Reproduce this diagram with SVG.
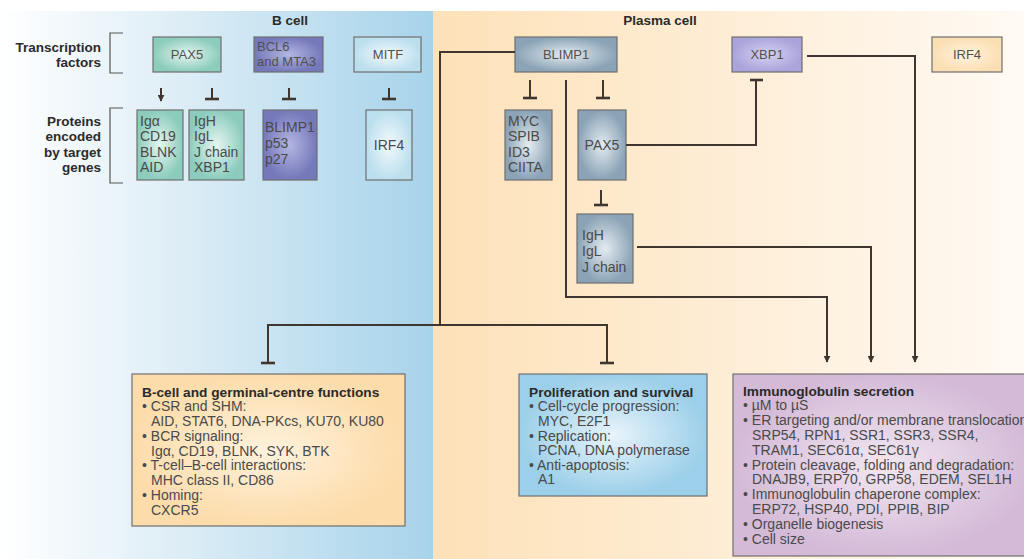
<svg xmlns="http://www.w3.org/2000/svg" width="1024" height="559" viewBox="0 0 1024 559">
<defs>
<linearGradient id="bgB" x1="0" y1="0" x2="1" y2="0">
<stop offset="0" stop-color="#ffffff"/>
<stop offset="0.35" stop-color="#e3f0f7"/>
<stop offset="1" stop-color="#a7d3ea"/>
</linearGradient>
<linearGradient id="bgP" x1="0" y1="0" x2="1" y2="0">
<stop offset="0" stop-color="#fde1b8"/>
<stop offset="0.6" stop-color="#fef0dc"/>
<stop offset="1" stop-color="#fffaf4"/>
</linearGradient>
<radialGradient id="gTeal"><stop offset="0" stop-color="#e6f5f0"/><stop offset="1" stop-color="#8bccbc"/></radialGradient>
<radialGradient id="gPurple"><stop offset="0" stop-color="#b4b6e2"/><stop offset="1" stop-color="#7578b9"/></radialGradient>
<radialGradient id="gLBlue"><stop offset="0" stop-color="#f2f9fc"/><stop offset="1" stop-color="#bcdfee"/></radialGradient>
<radialGradient id="gGray"><stop offset="0" stop-color="#e4ebf0"/><stop offset="1" stop-color="#8aa3b6"/></radialGradient>
<radialGradient id="gLav"><stop offset="0" stop-color="#d4d0f1"/><stop offset="1" stop-color="#aaa4da"/></radialGradient>
<radialGradient id="gIrf"><stop offset="0" stop-color="#fff2dc"/><stop offset="1" stop-color="#fbdfb4"/></radialGradient>
<radialGradient id="gOrange"><stop offset="0" stop-color="#fff2dc"/><stop offset="1" stop-color="#fcdcab"/></radialGradient>
<radialGradient id="gBlue"><stop offset="0" stop-color="#e8f4fa"/><stop offset="1" stop-color="#9ccfe9"/></radialGradient>
<radialGradient id="gPink"><stop offset="0" stop-color="#f1e7f1"/><stop offset="1" stop-color="#d4bad7"/></radialGradient>
<marker id="arr" viewBox="0 0 10 10" refX="9" refY="5" markerWidth="7" markerHeight="7" markerUnits="userSpaceOnUse" orient="auto">
<path d="M0,0 L10,5 L0,10 z" fill="#3f3630"/>
</marker>
<style>
.box{stroke:#6f6f6f;stroke-width:1.2}
.lbl{font-family:"Liberation Sans",Arial,sans-serif;font-size:13.5px;font-weight:bold;fill:#2b2b2b}
.t{font-family:"Liberation Sans",Arial,sans-serif;font-size:13px;fill:#505050}
.b{font-family:"Liberation Sans",Arial,sans-serif;font-size:14px;fill:#4a4a4a}
.bt{font-family:"Liberation Sans",Arial,sans-serif;font-size:13.7px;font-weight:bold;fill:#2a2a2a}
.ln{fill:none;stroke:#3f3630;stroke-width:2}
.bar{fill:none;stroke:#3f3630;stroke-width:2.6}
.br{fill:none;stroke:#555;stroke-width:1.2}
</style>
</defs>

<!-- panels -->
<rect x="0" y="0" width="1024" height="559" fill="#ffffff"/>
<rect x="0" y="11" width="433" height="548" fill="url(#bgB)"/>
<rect x="433" y="11" width="591" height="548" fill="url(#bgP)"/>
<text class="lbl" x="290" y="25" text-anchor="middle" font-size="14">B cell</text>
<text class="lbl" x="660" y="25" text-anchor="middle" font-size="14">Plasma cell</text>

<!-- side labels -->
<g id="label-tf">
<text class="lbl" x="101" y="52" text-anchor="end">Transcription</text>
<text class="lbl" x="101" y="67" text-anchor="end">factors</text>
<path class="br" d="M123,33 H110 V73 H123"/>
</g>
<g id="label-proteins">
<text class="lbl" x="101" y="126" text-anchor="end">Proteins</text>
<text class="lbl" x="101" y="141" text-anchor="end">encoded</text>
<text class="lbl" x="101" y="157" text-anchor="end">by target</text>
<text class="lbl" x="101" y="172" text-anchor="end">genes</text>
<path class="br" d="M123,108 H110 V183 H123"/>
</g>

<!-- B cell nodes -->
<g id="pax5-b"><rect class="box" x="153" y="37" width="68" height="35" fill="url(#gTeal)"/><text class="t" x="187" y="59" text-anchor="middle">PAX5</text></g>
<g id="bcl6"><rect class="box" x="254" y="37" width="69" height="35" fill="url(#gPurple)"/><text class="t" x="257" y="51" fill="#3e3e55">BCL6</text><text class="t" x="257" y="66" fill="#3e3e55">and MTA3</text></g>
<g id="mitf"><rect class="box" x="354" y="37" width="67" height="35" fill="url(#gLBlue)"/><text class="t" x="388" y="59" text-anchor="middle">MITF</text></g>
<g id="igA"><rect class="box" x="137" y="110" width="46" height="70" fill="url(#gTeal)"/>
<text class="b" x="140" y="126">Igα</text><text class="b" x="140" y="141">CD19</text><text class="b" x="140" y="157">BLNK</text><text class="b" x="140" y="172">AID</text></g>
<g id="igH-b"><rect class="box" x="189" y="110" width="55" height="70" fill="url(#gTeal)"/>
<text class="b" x="194" y="126">IgH</text><text class="b" x="194" y="141">IgL</text><text class="b" x="194" y="157">J chain</text><text class="b" x="194" y="172">XBP1</text></g>
<g id="blimp1-t"><rect class="box" x="263" y="110" width="54" height="70" fill="url(#gPurple)"/>
<text class="b" x="265" y="132" fill="#3e3e55">BLIMP1</text><text class="b" x="265" y="148" fill="#3e3e55">p53</text><text class="b" x="265" y="164" fill="#3e3e55">p27</text></g>
<g id="irf4-t"><rect class="box" x="366" y="110" width="46" height="70" fill="url(#gLBlue)"/><text class="b" x="389" y="150" text-anchor="middle">IRF4</text></g>

<!-- Plasma cell nodes -->
<g id="blimp1"><rect class="box" x="515" y="37" width="102" height="35" fill="url(#gGray)"/><text class="t" x="566" y="59" text-anchor="middle">BLIMP1</text></g>
<g id="xbp1"><rect class="box" x="732" y="37" width="70" height="35" fill="url(#gLav)"/><text class="t" x="767" y="59" text-anchor="middle">XBP1</text></g>
<g id="irf4"><rect class="box" x="932" y="37" width="70" height="35" fill="url(#gIrf)"/><text class="t" x="967" y="59" text-anchor="middle">IRF4</text></g>
<g id="myc"><rect class="box" x="505" y="110" width="47" height="70" fill="url(#gGray)"/>
<text class="b" x="508" y="126">MYC</text><text class="b" x="508" y="141">SPIB</text><text class="b" x="508" y="157">ID3</text><text class="b" x="508" y="172">CIITA</text></g>
<g id="pax5-p"><rect class="box" x="578" y="110" width="48" height="70" fill="url(#gGray)"/><text class="b" x="602" y="150" text-anchor="middle">PAX5</text></g>
<g id="igH-p"><rect class="box" x="577" y="214" width="56" height="69" fill="url(#gGray)"/>
<text class="b" x="582" y="240">IgH</text><text class="b" x="582" y="256">IgL</text><text class="b" x="582" y="272">J chain</text></g>

<!-- bottom boxes -->
<g id="bcell-functions"><rect class="box" x="132" y="374" width="273" height="152" fill="url(#gOrange)"/>
<text class="bt" x="142" y="397">B-cell and germinal-centre functions</text>
<text class="b" x="142" y="411">• CSR and SHM:</text>
<text class="b" x="151" y="426">AID, STAT6, DNA-PKcs, KU70, KU80</text>
<text class="b" x="142" y="441">• BCR signaling:</text>
<text class="b" x="151" y="456">Igα, CD19, BLNK, SYK, BTK</text>
<text class="b" x="142" y="470">• T-cell–B-cell interactions:</text>
<text class="b" x="151" y="485">MHC class II, CD86</text>
<text class="b" x="142" y="500">• Homing:</text>
<text class="b" x="151" y="515">CXCR5</text>
</g>
<g id="proliferation"><rect class="box" x="519" y="374" width="188" height="122" fill="url(#gBlue)"/>
<text class="bt" x="529" y="397">Proliferation and survival</text>
<text class="b" x="529" y="411">• Cell-cycle progression:</text>
<text class="b" x="538" y="426">MYC, E2F1</text>
<text class="b" x="529" y="441">• Replication:</text>
<text class="b" x="538" y="455">PCNA, DNA polymerase</text>
<text class="b" x="529" y="470">• Anti-apoptosis:</text>
<text class="b" x="538" y="484">A1</text>
</g>
<g id="ig-secretion"><rect class="box" x="733" y="374" width="300" height="182" fill="url(#gPink)"/>
<text class="bt" x="743" y="396">Immunoglobulin secretion</text>
<text class="b" x="743" y="410">• µM to µS</text>
<text class="b" x="743" y="425">• ER targeting and/or membrane translocation</text>
<text class="b" x="752" y="440">SRP54, RPN1, SSR1, SSR3, SSR4,</text>
<text class="b" x="752" y="455">TRAM1, SEC61α, SEC61γ</text>
<text class="b" x="743" y="470">• Protein cleavage, folding and degradation:</text>
<text class="b" x="752" y="484">DNAJB9, ERP70, GRP58, EDEM, SEL1H</text>
<text class="b" x="743" y="499">• Immunoglobulin chaperone complex:</text>
<text class="b" x="752" y="514">ERP72, HSP40, PDI, PPIB, BIP</text>
<text class="b" x="743" y="529">• Organelle biogenesis</text>
<text class="b" x="743" y="544">• Cell size</text>
</g>

<!-- connectors -->
<g id="connectors">
<path class="ln" d="M161,88 V101" marker-end="url(#arr)"/>
<path class="ln" d="M212,88 V99"/><path class="bar" d="M205,99 H219"/>
<path class="ln" d="M289,88 V99"/><path class="bar" d="M282,99 H296"/>
<path class="ln" d="M389,88 V99"/><path class="bar" d="M382,99 H396"/>
<path class="ln" d="M530,80 V98"/><path class="bar" d="M523,98 H537"/>
<path class="ln" d="M603,80 V98"/><path class="bar" d="M596,98 H610"/>
<path class="ln" d="M515,52 H440 V325"/>
<path class="ln" d="M268,363 V325 H607 V363"/>
<path class="bar" d="M261,363 H275"/><path class="bar" d="M600,363 H614"/>
<path class="ln" d="M566,80 V297 H827 V362" marker-end="url(#arr)"/>
<path class="ln" d="M601,190 V205"/><path class="bar" d="M594,205 H608"/>
<path class="ln" d="M626,145 H756 V80"/><path class="bar" d="M750,80 H763"/>
<path class="ln" d="M637,247 H871 V362" marker-end="url(#arr)"/>
<path class="ln" d="M807,56 H915 V362" marker-end="url(#arr)"/>
</g>
</svg>
